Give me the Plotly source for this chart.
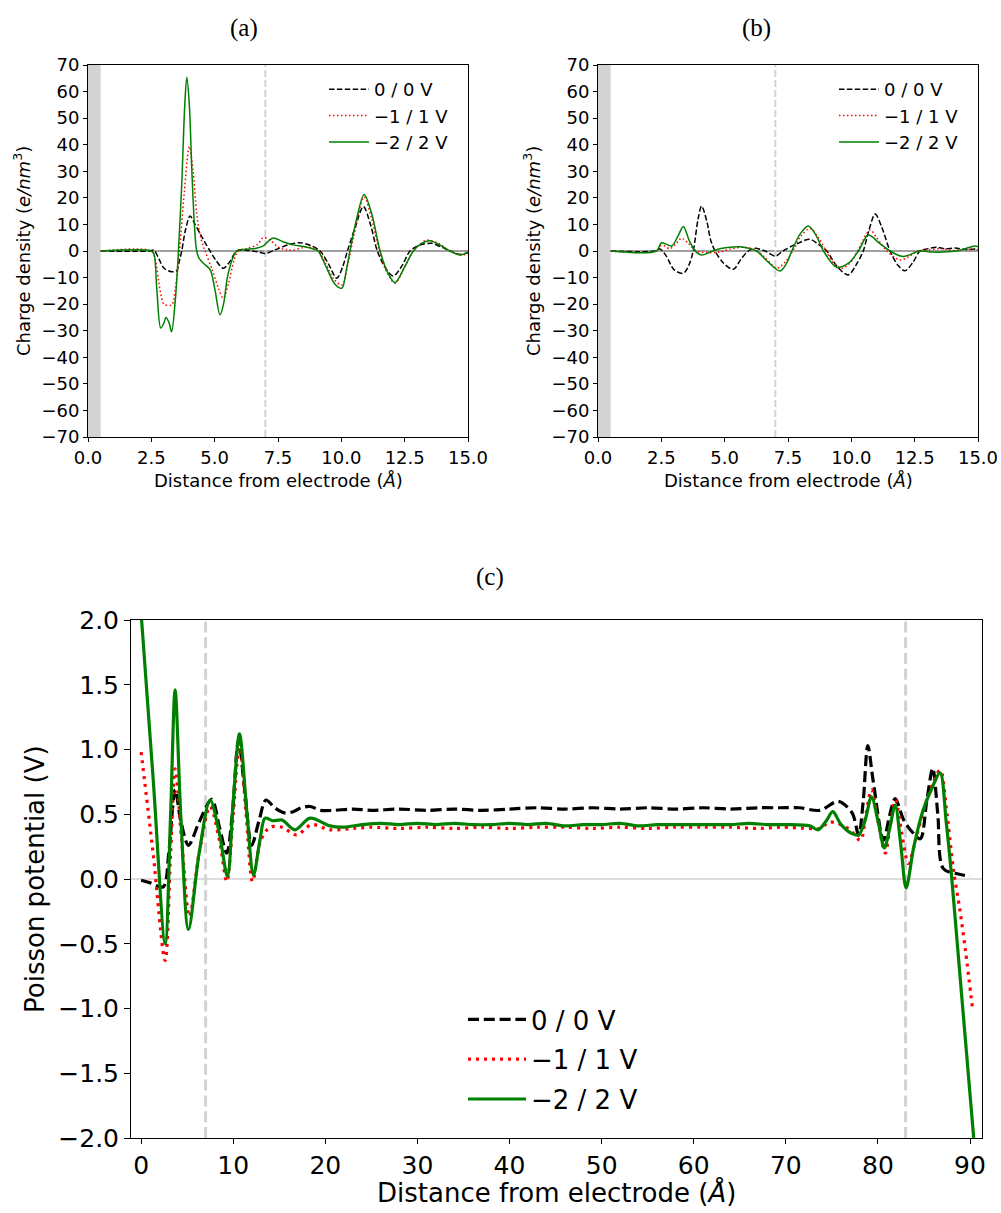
import plotly.graph_objects as go

# ---------------- data ----------------
# Panel (a): charge density, electrode side A
a_x_0 = [0.5, 2.4, 2.6, 2.8, 3.0, 3.3, 3.5, 3.6, 3.7, 3.85, 4.03, 4.2, 4.42, 4.6, 4.82, 5.05, 5.34, 5.6, 5.87,
         6.3, 6.7, 7.0, 7.4, 7.9, 8.37, 8.8, 9.16, 9.5, 9.82, 10.05, 10.24, 10.55, 10.87, 11.15, 11.42, 11.75,
         12.05, 12.4, 12.71, 13.1, 13.56, 13.95, 14.29, 14.69, 15.0]
a_y_0 = [0, 0, 0.3, -3, -6.5, -7.8, -7.5, -4, 0, 8, 13.2, 10.5, 6.6, 3.5, 0, -3.5, -6.5, -4, 0,
         0.2, -0.3, -0.9, 0.5, 2.3, 3.1, 2.0, 0, -5, -10.3, -6, 0, 9, 16.7, 10, 0, -6.5,
         -9.4, -5.5, 0, 2.2, 2.9, 1.5, 0, -1.3, -0.6]
a_x_1 = [0.5, 2.5, 2.65, 2.85, 3.0, 3.3, 3.45, 3.61, 3.8, 4.0, 4.15, 4.29, 4.45, 4.62, 4.9, 5.15, 5.34, 5.55,
         5.75, 5.93, 6.3, 6.7, 6.92, 7.2, 7.5, 7.84, 8.1, 8.5, 8.9, 9.1, 9.4, 9.7, 10.02, 10.3, 10.5, 10.9,
         11.2, 11.5, 11.8, 12.12, 12.5, 12.84, 13.1, 13.37, 13.8, 14.29, 14.69, 15.0]
a_y_1 = [0, 0, -3, -15, -20, -20.3, -14, 0, 22, 39.3, 30, 14.2, 5, 0, -7, -14, -17.8, -12,
         -4, 0, 1, 2.5, 5.0, 4, 1.5, 0.4, 0.3, 1.3, 1.2, 0, -5, -10.5, -12.8, -3, 6, 20.3,
         12, 0, -8, -12.1, -6, 0, 2.5, 4.1, 3, 0, -1.5, -1.0]
a_x_2 = [0.5, 2.5, 2.6, 2.72, 2.87, 3.0, 3.08, 3.2, 3.3, 3.45, 3.57, 3.7, 3.82, 3.9, 4.0, 4.1, 4.2, 4.29,
         4.4, 4.6, 4.82, 5.0, 5.21, 5.35, 5.5, 5.7, 5.87, 6.2, 6.6, 6.9, 7.1, 7.31, 7.7, 8.1, 8.6, 8.9,
         9.08, 9.4, 9.75, 10.02, 10.2, 10.34, 10.6, 10.9, 11.2, 11.53, 11.85, 12.12, 12.5, 12.84, 13.15,
         13.5, 13.9, 14.29, 14.69, 15.0]
a_y_2 = [0, 0, -1, -15, -29, -27, -25, -27, -30.4, -18, 0, 25, 55, 65.4, 55, 30, 10, 0,
         -3, -5, -7, -14, -24, -20, -10, -3, 0, 0.6, 0.9, 1.8, 3.5, 4.9, 3.5, 2.3, 1.5, 0.75,
         0, -6, -12.5, -14, -7, 0, 12, 21.3, 14, 0, -8.5, -11.9, -6, 0, 2.8,
         3.9, 2.2, 0, -1.5, -0.3]

# Panel (b): charge density, electrode side B
b_x_0 = [0.5, 2.25, 2.45, 2.7, 3.0, 3.37, 3.6, 3.76, 3.95, 4.09, 4.3, 4.45, 4.62, 4.95, 5.34, 5.65, 5.93,
         6.2, 6.6, 7.0, 7.3, 7.8, 8.37, 8.7, 9.03, 9.45, 9.88, 10.2, 10.47, 10.7, 10.94, 11.2, 11.53,
         11.85, 12.12, 12.45, 12.71, 13.0, 13.37, 13.7, 14.1, 14.5, 15.0]
b_y_0 = [0, 0, 0.8, -2, -7, -8.4, -5, 0, 12, 16.9, 11, 4, 0, -4.5, -6.9, -3, 0,
         1, 0, -1.9, 0, 2.5, 4.4, 2.5, 0, -6, -9.0, -5, 0, 8, 13.9, 9, 0,
         -5.5, -7.4, -4, 0, 0.8, 1.4, 0.8, 1.1, 0.6, 0.8]
b_x_1 = [0.5, 2.3, 2.51, 2.84, 3.1, 3.3, 3.55, 3.89, 4.3, 4.8, 5.2, 5.74, 6.2, 6.6, 7.05, 7.4, 7.75, 8.0,
         8.37, 8.7, 9.0, 9.3, 9.62, 9.95, 10.3, 10.74, 11.0, 11.4, 11.92, 12.3, 12.6, 13.0, 13.5, 14.0,
         14.5, 15.0]
b_y_1 = [0, 0, 2.2, 0.9, 3, 4.8, 3, 0, -0.6, -0.4, 0.7, 1.4, 0.5, -2.5, -6.5, -4, 1, 5.5,
         8.5, 5, 0, -4.5, -6.5, -4.5, 1, 7.9, 5, 0, -3.4, -2, 0, 0.3, 0.9, 0.2,
         0.6, 0.5]
b_x_2 = [0.5, 2.3, 2.51, 2.91, 3.15, 3.37, 3.6, 3.83, 4.09, 4.6, 5.1, 5.6, 5.95, 6.26, 6.7, 7.19, 7.45,
         7.65, 7.95, 8.3, 8.6, 8.9, 9.42, 9.9, 10.28, 10.67, 11.1, 11.53, 12.05, 12.7, 13.2, 13.8, 14.3,
         14.88, 15.0]
b_y_2 = [0, 0, 3.1, 1.9, 5.5, 9.2, 4, 0, -1.5, 0.3, 1.3, 1.6, 1, 0, -4, -7.5, -4.5,
         0, 6, 9.4, 6, 0, -6.1, -4.5, 0, 6.0, 3, 0, -2.1, 0, -0.4, -0.3, 0.3,
         1.9, 1.6]

# Panel (c): Poisson potential across the cell
c_x_0 = [0, 1.0, 2.4, 3.0, 3.7, 4.3, 5.14, 6.3, 7.67, 8.5, 9.3, 9.9, 10.57, 11.3, 12.0, 12.8, 13.55,
         14.5, 15.6, 16.5, 17.4, 18.35, 19.5, 20.9, 23, 25, 28, 31, 34, 37, 40, 43, 46, 49, 52, 55,
         58, 61, 64, 67, 69.4, 71.5, 73.7, 75.7, 77.2, 77.9, 78.4, 78.9, 79.5, 80.6, 81.3, 81.87,
         82.8, 83.7, 84.6, 85.3, 85.95, 86.5, 87.1, 88.6, 90.0]
c_y_0 = [-0.01, -0.03, -0.06, 0.2, 0.69, 0.45, 0.26, 0.44, 0.615, 0.4, 0.2, 0.5, 1.07, 0.65, 0.26, 0.45,
         0.61, 0.55, 0.51, 0.52, 0.55, 0.56, 0.53, 0.53, 0.54, 0.53, 0.54, 0.53, 0.54, 0.53, 0.54,
         0.55, 0.54, 0.55, 0.54, 0.55, 0.54, 0.55, 0.54, 0.55, 0.55, 0.55, 0.53, 0.60, 0.51, 0.34,
         0.6, 1.03, 0.75, 0.30, 0.5, 0.62, 0.455, 0.365, 0.31, 0.6, 0.855, 0.5, 0.08, 0.04, 0.02]
c_x_1 = [0, 1.3, 2.6, 3.2, 3.69, 4.4, 5.25, 6.3, 7.49, 8.5, 9.3, 10.0, 10.68, 11.4, 12.1, 13.0, 14.0,
         15.3, 16.9, 18.5, 20.5, 23, 25, 28, 31, 34, 37, 40, 43, 46, 49, 52, 55, 58, 61, 64, 67,
         69.4, 72.6, 73.7, 74.8, 76.8, 78.1, 78.7, 79.3, 80.0, 80.8, 81.3, 81.9, 82.6, 83.3, 84.3,
         85.5, 86.75, 87.5, 88.2, 88.9, 89.5, 90.3]
c_y_1 = [0.98, 0.2, -0.63, 0.2, 0.85, 0.3, -0.29, 0.2, 0.56, 0.3, -0.02, 0.5, 1.05, 0.5, -0.02, 0.3, 0.40,
         0.40, 0.34, 0.42, 0.38, 0.39, 0.40, 0.39, 0.40, 0.39, 0.40, 0.39, 0.40, 0.40, 0.39, 0.40,
         0.39, 0.40, 0.40, 0.40, 0.39, 0.40, 0.39, 0.39, 0.44, 0.39, 0.30, 0.5, 0.69, 0.45, 0.2, 0.4,
         0.61, 0.35, 0.12, 0.36, 0.65, 0.84, 0.5, 0.07, -0.24, -0.55, -1.02]
c_x_2 = [0, 1.3, 2.61, 3.2, 3.69, 4.3, 5.14, 6.3, 7.49, 8.5, 9.37, 10.0, 10.68, 11.5, 12.2, 12.9, 13.46,
         14.3, 15.3, 16.7, 18.35, 20.5, 22, 24, 26, 28, 30, 32, 34, 36, 38, 40, 42, 44, 46, 48, 50, 52,
         54, 56, 58, 60, 62, 64, 66, 68, 70, 72.6, 73.5, 74.4, 75.1, 76.0, 77.2, 77.9, 78.6, 79.3,
         80.0, 80.7, 81.3, 81.87, 82.5, 83.06, 83.9, 84.9, 85.8, 86.75, 87.4, 88.0, 90.4]
c_y_2 = [2.05, 0.78, -0.50, 0.5, 1.46, 0.5, -0.39, 0.2, 0.61, 0.35, 0.02, 0.6, 1.12, 0.5, 0.03, 0.3, 0.47,
         0.45, 0.455, 0.38, 0.47, 0.41, 0.40, 0.42, 0.43, 0.42, 0.43, 0.42, 0.43, 0.42, 0.42, 0.43,
         0.42, 0.43, 0.41, 0.42, 0.42, 0.43, 0.41, 0.42, 0.42, 0.42, 0.42, 0.42, 0.43, 0.42, 0.42,
         0.41, 0.38, 0.45, 0.52, 0.42, 0.35, 0.34, 0.45, 0.635, 0.45, 0.24, 0.4, 0.57, 0.25, -0.07,
         0.25, 0.53, 0.69, 0.82, 0.45, 0.02, -2.0]

series_names = ["0 / 0 V", "\u22121 / 1 V", "\u22122 / 2 V"]
series_colors = ["#000000", "#ff0000", "#008000"]

a_xticks = [0, 2.5, 5, 7.5, 10, 12.5, 15]
ab_yticks = list(range(-70, 71, 10))
c_xticks = list(range(0, 91, 10))
c_yticks = [-2.0, -1.5, -1.0, -0.5, 0.0, 0.5, 1.0, 1.5, 2.0]

# ---------------- figure ----------------
W, H = 1001, 1213


def dx(l, r):
    return [l / W, r / W]


def dy(t, b):
    return [1 - b / H, 1 - t / H]


fig = go.Figure()

small_dash = ["5.5px,2.4px", "1.5px,2.5px", "solid"]
big_dash = ["11px,4.8px", "3px,5px", "solid"]

panels = [
    (a_x_0, a_y_0, a_x_1, a_y_1, a_x_2, a_y_2, "x", "y", "legend", 1.5, small_dash, "a"),
    (b_x_0, b_y_0, b_x_1, b_y_1, b_x_2, b_y_2, "x2", "y2", "legend2", 1.5, small_dash, "b"),
    (c_x_0, c_y_0, c_x_1, c_y_1, c_x_2, c_y_2, "x3", "y3", "legend3", 3.2, big_dash, "c"),
]
for p in panels:
    xs = [p[0], p[2], p[4]]
    ys = [p[1], p[3], p[5]]
    for i in range(3):
        fig.add_trace(go.Scatter(
            x=xs[i], y=ys[i], mode="lines", name=series_names[i],
            line=dict(color=series_colors[i], width=p[9], dash=p[10][i], shape="spline", smoothing=0.9),
            xaxis=p[6], yaxis=p[7], legend=p[8], showlegend=True,
            legendgroup=p[11] + str(i),
        ))

f_small = dict(family="DejaVu Sans", size=18, color="black")
f_tick_big = dict(family="DejaVu Sans", size=25, color="black")
f_big = dict(family="DejaVu Sans", size=26, color="black")
common = dict(showline=True, mirror=True, linecolor="black", linewidth=1, ticks="outside",
              tickcolor="black", tickwidth=1, showgrid=False, zeroline=False, automargin=False)

fig.update_layout(
    template="none",
    width=W, height=H, margin=dict(l=0, r=0, t=0, b=0, autoexpand=False),
    paper_bgcolor="white", plot_bgcolor="white", showlegend=True,
    xaxis=dict(domain=dx(88, 468), range=[0, 15], tickvals=a_xticks, tickformat=".1f", ticklen=4,
               tickfont=f_small, anchor="y", **common),
    yaxis=dict(domain=dy(65, 437), range=[-70, 70], tickvals=ab_yticks, ticklen=4, tickfont=f_small,
               anchor="x", **common),
    xaxis2=dict(domain=dx(598, 978), range=[0, 15], tickvals=a_xticks, tickformat=".1f", ticklen=4,
                tickfont=f_small, anchor="y2", **common),
    yaxis2=dict(domain=dy(65, 437), range=[-70, 70], tickvals=ab_yticks, ticklen=4, tickfont=f_small,
                anchor="x2", **common),
    xaxis3=dict(domain=dx(131, 982), range=[-1.1, 91.3], tickvals=c_xticks, ticklen=5, tickfont=f_tick_big,
                anchor="y3", **common),
    yaxis3=dict(domain=dy(620, 1138), range=[-2, 2], tickvals=c_yticks, tickformat=".1f", ticklen=6,
                tickfont=f_tick_big, anchor="x3", **common),
    legend=dict(x=324 / W, y=1 - 71 / H, xanchor="left", yanchor="top", bgcolor="rgba(0,0,0,0)",
                borderwidth=0, font=dict(family="DejaVu Sans", size=18, color="black"), itemwidth=40,
                tracegroupgap=0),
    legend2=dict(x=834 / W, y=1 - 71 / H, xanchor="left", yanchor="top", bgcolor="rgba(0,0,0,0)",
                 borderwidth=0, font=dict(family="DejaVu Sans", size=18, color="black"), itemwidth=40,
                 tracegroupgap=0),
    legend3=dict(x=463 / W, y=1 - 996 / H, xanchor="left", yanchor="top", bgcolor="rgba(0,0,0,0)",
                 borderwidth=0, font=dict(family="DejaVu Sans", size=26, color="black"), itemwidth=58,
                 tracegroupgap=3),
)

# reference lines and shaded electrode region
shapes = []
for xr, yr in [("x", "y"), ("x2", "y2")]:
    shapes.append(dict(type="line", xref=xr + " domain", x0=0, x1=1, yref=yr, y0=0, y1=0,
                       line=dict(color="#808080", width=1.3), layer="below"))
    shapes.append(dict(type="rect", xref=xr, x0=0, x1=0.5, yref=yr + " domain", y0=0, y1=1,
                       fillcolor="#d3d3d3", line=dict(width=0), layer="below"))
    shapes.append(dict(type="line", xref=xr, x0=7, x1=7, yref=yr + " domain", y0=0, y1=1,
                       line=dict(color="#d3d3d3", width=2, dash="7px,3px"), layer="below"))
shapes.append(dict(type="line", xref="x3 domain", x0=0, x1=1, yref="y3", y0=0, y1=0,
                   line=dict(color="#d0d0d0", width=1.5), layer="below"))
for xv in [7, 83]:
    shapes.append(dict(type="line", xref="x3", x0=xv, x1=xv, yref="y3 domain", y0=0, y1=1,
                       line=dict(color="#d3d3d3", width=3, dash="11px,4.8px"), layer="below"))
fig.update_layout(shapes=shapes)

# panel titles
title_font = dict(family="Liberation Serif", size=25, color="black")
for txt, px, py in [("(a)", 244, 28), ("(b)", 756, 28), ("(c)", 490, 577)]:
    fig.add_annotation(text=txt, x=px / W, y=1 - py / H, xref="paper", yref="paper",
                       showarrow=False, font=title_font, xanchor="center", yanchor="middle")

# axis titles
xlab = "Distance from electrode (<i>Å</i>)"
ylab = "Charge density (<i>e/nm</i><sup>3</sup>)"
for txt, px, py, ang, fnt in [(xlab, 278, 480, 0, f_small), (xlab, 788, 480, 0, f_small),
                              (ylab, 22, 251, -90, f_small), (ylab, 532, 251, -90, f_small),
                              (xlab, 556, 1192, 0, f_big), ("Poisson potential (V)", 35, 879, -90, f_big)]:
    fig.add_annotation(text=txt, x=px / W, y=1 - py / H, xref="paper", yref="paper", textangle=ang,
                       showarrow=False, font=fnt, xanchor="center", yanchor="middle")

fig.write_html("out.html", config={"displayModeBar": False},
               post_script="document.body.style.margin='0';")
